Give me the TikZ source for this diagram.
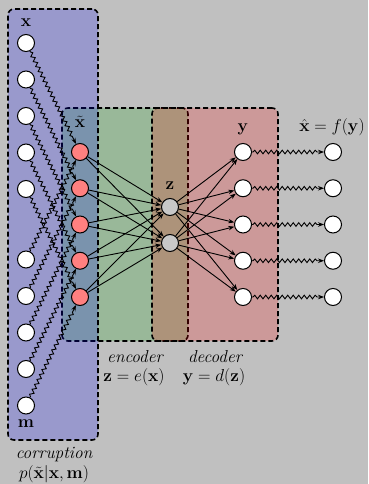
\documentclass[tikz,border=0pt]{standalone}
\usepackage{amsmath}
\usetikzlibrary{arrows.meta,decorations.pathmorphing}
\definecolor{bggray}{RGB}{192,192,192}
\definecolor{encgreen}{RGB}{0,155,0}
\definecolor{nodered}{RGB}{255,128,128}
\definecolor{zgray}{RGB}{200,200,200}
\begin{document}
\begin{tikzpicture}[x=1pt,y=-1pt,
  neuron/.style={circle,draw,line width=1pt,minimum size=17pt,inner sep=0pt,fill=white},
  regionbox/.style={draw,dash pattern=on 5pt off 3pt,line width=1.6pt,rounded corners=6pt,inner sep=0pt,outer sep=0pt,fill opacity=0.2},
  conn/.style={-{Stealth[length=6pt,width=4.5pt]},line width=0.9pt},
  wave/.style={conn,decorate,decoration={snake,amplitude=1.8pt,segment length=5.5pt,pre length=1pt,post length=6pt}},
  lab/.style={font=\fontsize{17.28}{21}\selectfont,inner sep=0pt}
]
\fill[bggray] (0,0) rectangle (368,484);
\useasboundingbox (0,0) rectangle (368,484);

% regions
\node[regionbox,fill=encgreen,minimum width=126pt,minimum height=233pt] (enc) at (125,224.5) {};
\node[regionbox,fill=red,minimum width=126pt,minimum height=233pt] (dec) at (215,224.5) {};
\node[regionbox,fill=blue,minimum width=90pt,minimum height=431pt] (cor) at (53,224.5) {};

% neurons
\foreach \i in {0,...,4} {
  \node[neuron] (x\i) at (26,43+36.5*\i) {};
  \node[neuron] (m\i) at (26,259.5+36.5*\i) {};
  \node[neuron,fill=nodered] (r\i) at (80,152+36.25*\i) {};
  \node[neuron] (y\i) at (243,152+36.25*\i) {};
  \node[neuron] (o\i) at (333,152+36.25*\i) {};
}
\node[neuron,fill=zgray] (z0) at (170,207) {};
\node[neuron,fill=zgray] (z1) at (170,243) {};

% connections
\foreach \i in {0,...,4} {
  \draw[wave] (x\i) -- (r\i);
  \draw[wave] (m\i) -- (r\i);
  \draw[wave] (y\i) -- (o\i);
  \foreach \j in {0,1} {
    \draw[conn] (r\i) -- (z\j);
    \draw[conn] (z\j) -- (y\i);
  }
}

% labels
\node[lab] (lx) at (26,23) {$\mathbf{x}$};
\node[lab] (lm) at (26,424) {$\mathbf{m}$};
\node[lab] (lxt) at (80,122) {$\tilde{\mathbf{x}}$};
\node[lab] (lz) at (170,186) {$\mathbf{z}$};
\node[lab] (ly) at (243,129) {$\mathbf{y}$};
\node[lab] (lxh) at (332,127) {$\hat{\mathbf{x}}=f(\mathbf{y})$};
\node[lab] (lcor1) at (54,455) {\itshape corruption};
\node[lab] (lcor2) at (54,474) {$p(\tilde{\mathbf{x}}|\mathbf{x},\mathbf{m})$};
\node[lab] (lenc1) at (135,357) {\itshape encoder};
\node[lab] (lenc2) at (134,377) {$\mathbf{z}=e(\mathbf{x})$};
\node[lab] (ldec1) at (215,357) {\itshape decoder};
\node[lab] (ldec2) at (214,377) {$\mathbf{y}=d(\mathbf{z})$};
\end{tikzpicture}
\end{document}
